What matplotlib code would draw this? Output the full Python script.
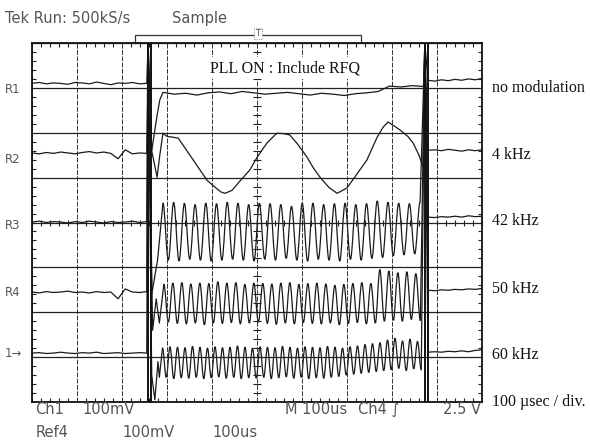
import numpy as np
import matplotlib
matplotlib.use('Agg')
import matplotlib.pyplot as plt
from matplotlib.path import Path
from matplotlib.patches import PathPatch

# time in usec (10 div x 100 usec), vertical in divisions (0..8)
t_pre = np.linspace(0, 255, 17)
t_post = np.linspace(880, 1000, 9)

pre1 = [7.10,7.12,7.09,7.11,7.10,7.08,7.12,7.11,7.09,7.13,7.10,7.07,7.11,7.10,7.12,7.09,7.10]
pre2 = [5.55,5.53,5.56,5.54,5.57,5.55,5.53,5.56,5.58,5.55,5.57,5.54,5.42,5.62,5.53,5.55,5.54]
pre3 = [4.01,4.03,4.00,4.02,4.01,3.99,4.02,4.00,4.03,4.01,3.99,4.02,4.00,4.01,4.03,4.00,4.02]
pre4 = [2.45,2.43,2.46,2.44,2.45,2.47,2.44,2.45,2.43,2.46,2.44,2.45,2.30,2.52,2.45,2.44,2.46]
pre5 = [1.09,1.10,1.08,1.09,1.11,1.09,1.08,1.10,1.09,1.11,1.08,1.09,1.10,1.08,1.09,1.10,1.09]

post1 = [7.17,7.15,7.18,7.16,7.19,7.17,7.20,7.18,7.21]
post2 = [5.61,5.62,5.60,5.63,5.61,5.59,5.62,5.60,5.62]
post3 = [4.12,4.11,4.13,4.12,4.14,4.12,4.15,4.13,4.14]
post4 = [2.49,2.48,2.50,2.49,2.51,2.50,2.52,2.51,2.53]
post5 = [1.11,1.12,1.11,1.13,1.12,1.14,1.12,1.15,1.16]

# transient right after the pulse edge
start1_t = [258, 266, 273, 278, 284]
start1_v = [8.0, 5.6, 6.06, 6.39, 6.73]
start2_t = [258, 266, 278, 284]
start2_v = [8.0, 5.6, 5.01, 5.5]
start3_t = [258, 266, 279]
start3_v = [8.0, 2.4, 3.16]
start4_t = [258, 268, 276, 283]
start4_v = [8.0, 1.6, 2.3, 1.76]
start5_t = [258, 266, 273, 280, 283]
start5_v = [8.0, 0.6, 0.05, 0.9, 0.55]

# no modulation
flat1_t = np.linspace(291, 870, 24)
flat1_v = [6.90,6.86,6.88,6.84,6.89,6.91,6.87,6.92,6.89,6.86,6.88,6.90,
           6.87,6.84,6.88,6.86,6.83,6.87,6.89,6.92,7.04,7.02,7.05,7.03]

# 4 kHz
mod2_t = [291,300,313,325,336,351,370,389,405,420,429,445,460,484,500,522,544,560,573,590,
          611,625,640,660,678,700,720,744,767,780,791,805,818,835,847,860,869]
mod2_v = [5.99,5.92,5.90,5.88,5.72,5.50,5.22,4.94,4.80,4.68,4.65,4.72,4.90,5.17,5.45,5.77,
          5.99,5.98,5.95,5.75,5.46,5.22,5.01,4.78,4.65,4.77,5.05,5.39,5.90,6.12,6.24,6.15,
          6.06,5.92,5.77,5.50,5.23]

# 42 / 50 / 60 kHz: peak and trough levels of each cycle
freqs = [42, 50, 60]
first_peak = [291, 293, 290]
peaks3 = [4.43,4.45,4.43,4.40,4.43,4.42,4.45,4.43,4.40,4.43,4.42,4.40,4.36,4.43,4.43,4.40,
          4.42,4.43,4.40,4.42,4.48,4.45,4.43,4.42,4.45]
troughs3 = [3.16,3.14,3.18,3.16,3.14,3.16,3.18,3.16,3.14,3.18,3.16,3.20,3.16,3.14,3.18,3.16,
            3.14,3.18,3.16,3.20,3.22,3.26,3.28,3.30]
peaks4 = [2.62,2.65,2.66,2.63,2.65,2.64,2.68,2.65,2.66,2.62,2.65,2.64,2.63,2.65,2.66,2.62,
          2.64,2.65,2.63,2.60,2.62,2.64,2.66,2.64,2.95,2.92,2.88,2.90,2.86]
troughs4 = [1.78,1.75,1.74,1.76,1.72,1.76,1.75,1.77,1.74,1.76,1.78,1.75,1.73,1.76,1.74,1.77,
            1.75,1.74,1.76,1.72,1.75,1.77,1.74,1.76,1.80,1.82,1.80,1.84,1.82]
peaks5 = [1.20,1.23,1.22,1.21,1.24,1.22,1.20,1.23,1.21,1.22,1.25,1.22,1.20,1.23,1.22,1.21,
          1.24,1.22,1.20,1.23,1.22,1.21,1.24,1.22,1.20,1.23,1.25,1.28,1.30,1.32,
          1.38,1.42,1.36,1.40,1.35]
troughs5 = [0.55,0.52,0.54,0.53,0.55,0.52,0.54,0.56,0.53,0.55,0.52,0.54,0.53,0.55,0.52,0.54,
            0.56,0.53,0.55,0.52,0.54,0.53,0.55,0.57,0.60,0.62,0.64,0.66,0.68,0.70,
            0.72,0.75,0.70,0.74,0.72]

edges = [258, 264, 873, 879]

right_labels = ['no modulation', '4 kHz', '42 kHz', '50 kHz', '60 kHz', '100 \u00b5sec / div.']
right_y = [6.99, 5.50, 4.03, 2.52, 1.05, 0.0]
left_labels = ['R1', 'R2', 'R3', 'R4', '1\u2192']
left_y = [6.97, 5.40, 3.94, 2.43, 1.09]

INK = '#1a1a1a'


def extremes(t0, f_khz, peaks, troughs):
    half = 1000.0 / f_khz / 2
    vals = []
    for i, p in enumerate(peaks):
        vals.append(p)
        if i < len(troughs):
            vals.append(troughs[i])
    return t0 + half * np.arange(len(vals)), np.array(vals)


def smooth_path(t, v):
    # cubic segments between successive extremes (rounded like a sine)
    verts = [(t[0], v[0])]
    codes = [Path.MOVETO]
    for i in range(len(t) - 1):
        d = (t[i + 1] - t[i]) * 0.36
        verts += [(t[i] + d, v[i]), (t[i + 1] - d, v[i + 1]), (t[i + 1], v[i + 1])]
        codes += [Path.CURVE4] * 3
    return Path(verts, codes)


fig = plt.figure(figsize=(5.9, 4.43), dpi=100)
ax = fig.add_axes([32/590, 41/443, 450/590, 359/443])
ax.set_xlim(0, 1000)
ax.set_ylim(0, 8)

ax.set_xticks(np.arange(0, 1001, 100))
ax.set_yticks(np.arange(0, 8.01, 1))
ax.set_xticks(np.arange(0, 1001, 20), minor=True)
ax.set_yticks(np.arange(0, 8.01, 0.2), minor=True)
ax.tick_params(which='both', direction='in', top=True, right=True,
               labelbottom=False, labelleft=False)
ax.tick_params(which='major', length=0)
ax.tick_params(which='minor', length=3, width=0.8, color='#222')
ax.xaxis.grid(True, ls=(0, (5, 1.5)), lw=0.7, color='#333')
ax.yaxis.grid(True, ls='-', lw=0.9, color='#222')
for s in ax.spines.values():
    s.set_linewidth(1.3)
    s.set_color('#111')

# centre crosshair ticks
ax.plot(np.full(41, 500), np.arange(0, 8.01, 0.2), ls='none', marker='_', ms=6, mew=0.8, color='#222')
ax.plot(np.arange(0, 1001, 20), np.full(51, 4), ls='none', marker='|', ms=5, mew=0.8, color='#222')


def draw_trace(pre, st_t, st_v, mid_t, mid_v, post, curved=False):
    if curved:
        ax.plot(np.concatenate([t_pre, st_t, mid_t[:1]]),
                np.concatenate([pre, st_v, mid_v[:1]]), color=INK, lw=0.9)
        ax.add_patch(PathPatch(smooth_path(mid_t, mid_v), fill=False, ec=INK, lw=0.9))
        ax.plot(np.concatenate([mid_t[-1:], [873], t_post]),
                np.concatenate([mid_v[-1:], [8.0], post]), color=INK, lw=0.9)
    else:
        t = np.concatenate([t_pre, st_t, mid_t, [873], t_post])
        v = np.concatenate([pre, st_v, mid_v, [8.0], post])
        ax.plot(t, v, color=INK, lw=0.9, solid_joinstyle='round')


draw_trace(pre1, start1_t, start1_v, flat1_t, flat1_v, post1)
draw_trace(pre2, start2_t, start2_v, mod2_t, mod2_v, post2)
for (pre, st_t, st_v, post), f, t0, pk, tr in zip(
        [(pre3, start3_t, start3_v, post3), (pre4, start4_t, start4_v, post4),
         (pre5, start5_t, start5_v, post5)],
        freqs, first_peak, [peaks3, peaks4, peaks5], [troughs3, troughs4, troughs5]):
    mt, mv = extremes(t0, f, pk, tr)
    draw_trace(pre, st_t, st_v, mt, mv, post, curved=True)

ax.vlines(edges, 0, 8, color='#111', lw=1.4)

# record / trigger bracket above the screen
ax.plot([229, 229, 731, 731], [8.0, 8.18, 8.18, 8.05], color='#333', lw=0.9, clip_on=False)
ax.text(502, 8.21, 'T', fontsize=6, color='#555', ha='center', va='center',
        bbox=dict(boxstyle='square,pad=0.15', fc='white', ec='#777', ls=':', lw=0.6))

ax.text(562, 7.44, 'PLL ON : Include RFQ', family='Liberation Serif', fontsize=11.5,
        ha='center', va='center', color='#111', zorder=5,
        bbox=dict(boxstyle='square,pad=0.2', fc='white', ec='none'))

for lab, y in zip(right_labels, right_y):
    ax.text(1022, y, lab, family='Liberation Serif', fontsize=11.5, ha='left', va='center',
            color='#111', clip_on=False)
for lab, y in zip(left_labels, left_y):
    ax.text(-60, y, lab, fontsize=8.5, ha='left', va='center', color='#555', clip_on=False)

scope = dict(fontsize=10.5, color='#555', va='center', clip_on=False)
ax.text(-60, 8.55, 'Tek Run: 500kS/s', **scope)
ax.text(311, 8.55, 'Sample', **scope)
ax.text(7, -0.16, 'Ch1', **scope)
ax.text(113, -0.16, '100mV', **scope)
ax.text(562, -0.16, 'M 100us', **scope)
ax.text(725, -0.16, 'Ch4 \u222b', **scope)
ax.text(913, -0.16, '2.5 V', **scope)
ax.text(7, -0.67, 'Ref4', **scope)
ax.text(202, -0.67, '100mV', **scope)
ax.text(402, -0.67, '100us', **scope)

fig.savefig('out.png', dpi=100)
